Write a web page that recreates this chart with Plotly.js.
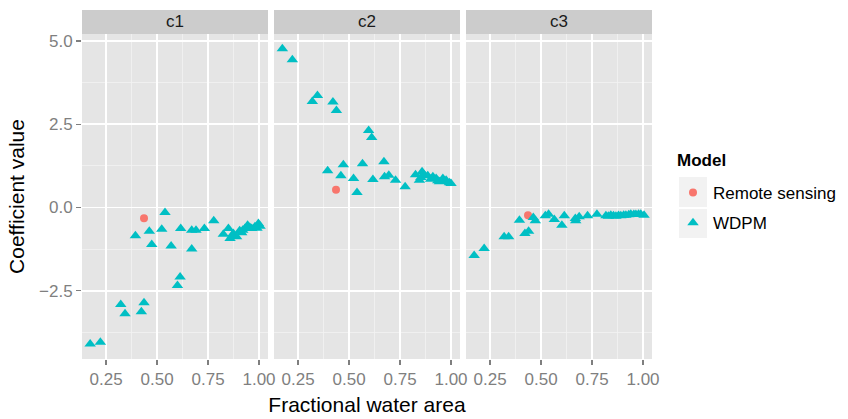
<!DOCTYPE html>
<html>
<head>
<meta charset="utf-8">
<script src="https://cdn.plot.ly/plotly-3.0.1.min.js"></script>
<style>html,body{margin:0;padding:0;background:#fff;}#chart{width:848px;height:419px;}</style>
</head>
<body>
<div id="chart"></div>
<script>
// ---- data ----
const panels = ["c1", "c2", "c3"];
const modelNames = ["Remote sensing", "WDPM"];
const legendTitle = "Model";

const rsX = [0.436, 0.436, 0.436];
const rsY = [-0.32, 0.53, -0.23];

const c1X = [0.172,0.222,0.322,0.343,0.394,0.423,0.436,0.462,0.474,0.523,0.539,0.569,0.600,0.613,0.616,0.670,0.670,0.691,0.732,0.778,0.825,0.850,0.858,0.874,0.890,0.915,0.931,0.944,0.964,0.980,0.997,1.005,0.868,0.905,0.920,0.955,0.990];
const c1Y = [-4.10,-4.05,-2.91,-3.19,-0.85,-3.13,-2.86,-0.71,-1.11,-0.65,-0.15,-1.16,-2.34,-2.09,-0.63,-0.68,-1.25,-0.68,-0.63,-0.40,-0.80,-0.63,-0.93,-0.78,-0.88,-0.76,-0.63,-0.53,-0.63,-0.58,-0.48,-0.56,-0.85,-0.70,-0.68,-0.60,-0.62];

const c2X = [0.173,0.222,0.320,0.345,0.395,0.421,0.438,0.460,0.472,0.522,0.539,0.566,0.596,0.611,0.617,0.671,0.674,0.695,0.728,0.775,0.826,0.845,0.858,0.870,0.886,0.911,0.927,0.943,0.960,0.976,0.992,1.000,0.852,0.900,0.935,0.968];
const c2Y = [4.77,4.44,3.18,3.36,1.10,3.17,2.91,0.95,1.28,0.87,0.45,1.31,2.31,2.10,0.84,1.37,0.92,0.97,0.82,0.62,0.98,0.82,1.07,0.97,0.95,0.92,0.87,0.77,0.87,0.82,0.74,0.72,0.90,0.85,0.80,0.78];

const c3X = [0.172,0.221,0.319,0.341,0.394,0.421,0.439,0.462,0.472,0.521,0.537,0.565,0.602,0.614,0.668,0.670,0.687,0.728,0.774,0.818,0.842,0.867,0.891,0.916,0.940,0.965,0.989,1.005,0.830,0.855,0.880,0.905,0.930,0.955,0.978];
const c3Y = [-1.44,-1.23,-0.88,-0.88,-0.38,-0.78,-0.71,-0.30,-0.40,-0.25,-0.20,-0.36,-0.53,-0.25,-0.33,-0.40,-0.28,-0.25,-0.20,-0.25,-0.23,-0.26,-0.25,-0.23,-0.20,-0.21,-0.20,-0.23,-0.26,-0.25,-0.24,-0.23,-0.22,-0.21,-0.20];

const wdpmX = [c1X, c2X, c3X];
const wdpmY = [c1Y, c2Y, c3Y];

const xTickVals = [0.25, 0.5, 0.75, 1.0];
const xTickText = ["0.25", "0.50", "0.75", "1.00"];
const yTickVals = [-2.5, 0, 2.5, 5.0];
const yTickText = ["\u22122.5", "0.0", "2.5", "5.0"];

// ---- styling ----
const FONT = "Liberation Sans, Arial, sans-serif";
const RED = "#F8766D", TEAL = "#00BFC4";
const W = 848, H = 419, ML = 82, MR = 196, MT = 10, MB = 60;
const PW = W - ML - MR, PH = H - MT - MB;
const px2x = p => (p - ML) / PW;
const px2y = p => (H - MB - p) / PH;
const stripTop = 1, stripBot = px2y(34);
const domains = [[px2x(82), px2x(268)], [px2x(274), px2x(460)], [px2x(466), px2x(652)]];

const traces = [];
panels.forEach((p, i) => {
  const xa = i === 0 ? "x" : "x" + (i + 1);
  const ya = i === 0 ? "y" : "y" + (i + 1);
  traces.push({
    type: "scatter", mode: "markers", name: modelNames[0], legendgroup: "rs",
    showlegend: i === 0, x: [rsX[i]], y: [rsY[i]], xaxis: xa, yaxis: ya,
    marker: {symbol: "circle", size: 8, color: RED}, hoverinfo: "skip"
  });
});
panels.forEach((p, i) => {
  const xa = i === 0 ? "x" : "x" + (i + 1);
  const ya = i === 0 ? "y" : "y" + (i + 1);
  traces.push({
    type: "scatter", mode: "markers", name: modelNames[1], legendgroup: "wdpm",
    showlegend: i === 0, x: wdpmX[i], y: wdpmY[i], xaxis: xa, yaxis: ya,
    marker: {symbol: "triangle-up", size: 10, color: TEAL}, hoverinfo: "skip"
  });
});

const xBase = {
  range: [0.132, 1.044], tickvals: xTickVals, ticktext: xTickText,
  ticks: "outside", ticklen: 5, tickcolor: "#7F7F7F", tickwidth: 1.2,
  tickfont: {family: FONT, size: 17, color: "#7F7F7F"},
  showgrid: true, gridcolor: "#FFFFFF", gridwidth: 1.6,
  minor: {dtick: 0.125, tick0: 0, showgrid: true, gridcolor: "#F2F2F2", gridwidth: 0.8, ticks: ""},
  zeroline: false, showline: false, fixedrange: true
};
const yBase = {
  range: [-4.55, 5.21], tickvals: yTickVals, ticktext: yTickText,
  showgrid: true, gridcolor: "#FFFFFF", gridwidth: 1.6,
  minor: {dtick: 1.25, tick0: 0, showgrid: true, gridcolor: "#F2F2F2", gridwidth: 0.8, ticks: ""},
  zeroline: false, showline: false, domain: [0, stripBot], fixedrange: true
};

const layout = {
  width: W, height: H,
  margin: {l: ML, r: MR, t: MT, b: MB, pad: 0, autoexpand: false},
  paper_bgcolor: "#FFFFFF", plot_bgcolor: "#E5E5E5",
  font: {family: FONT, size: 17, color: "#000"},
  xaxis: Object.assign({}, xBase, {domain: domains[0], anchor: "y"}),
  xaxis2: Object.assign({}, xBase, {domain: domains[1], anchor: "y2",
    title: {text: "Fractional water area", font: {family: FONT, size: 21, color: "#000"}, standoff: 8}}),
  xaxis3: Object.assign({}, xBase, {domain: domains[2], anchor: "y3"}),
  yaxis: Object.assign({}, yBase, {anchor: "x",
    ticks: "outside", ticklen: 5, tickcolor: "#7F7F7F", tickwidth: 1.2,
    tickfont: {family: FONT, size: 17, color: "#7F7F7F"},
    title: {text: "Coefficient value", font: {family: FONT, size: 21, color: "#000"}, standoff: 8}}),
  yaxis2: Object.assign({}, yBase, {anchor: "x2", matches: "y", showticklabels: false, ticks: ""}),
  yaxis3: Object.assign({}, yBase, {anchor: "x3", matches: "y", showticklabels: false, ticks: ""}),
  showlegend: true,
  legend: {
    x: px2x(673), xanchor: "left", y: px2y(175), yanchor: "top",
    bgcolor: "rgba(0,0,0,0)", borderwidth: 0,
    traceorder: "grouped", tracegroupgap: 5,
    font: {family: FONT, size: 17, color: "#000"}
  },
  shapes: [],
  annotations: [{
    xref: "paper", yref: "paper", x: px2x(675), y: px2y(160), xanchor: "left", yanchor: "middle",
    text: "<b>" + legendTitle + "</b>", showarrow: false,
    font: {family: FONT, size: 17, color: "#000"}
  }]
};

domains.forEach((d, i) => {
  layout.shapes.push({type: "rect", xref: "paper", yref: "paper", x0: d[0], x1: d[1],
    y0: stripBot, y1: stripTop, fillcolor: "#CCCCCC", line: {width: 0}, layer: "below"});
  layout.annotations.push({xref: "paper", yref: "paper", x: (d[0] + d[1]) / 2, y: (stripBot + stripTop) / 2,
    text: panels[i], showarrow: false, xanchor: "center", yanchor: "middle",
    font: {family: FONT, size: 17, color: "#1A1A1A"}});
});
// legend key backgrounds
[[177, 207], [209, 238]].forEach(r => {
  layout.shapes.push({type: "rect", xref: "paper", yref: "paper",
    x0: px2x(679), x1: px2x(707), y0: px2y(r[1]), y1: px2y(r[0]),
    fillcolor: "#F2F2F2", line: {width: 0}, layer: "below"});
});

Plotly.newPlot("chart", traces, layout, {staticPlot: true, displayModeBar: false});
</script>
</body>
</html>
